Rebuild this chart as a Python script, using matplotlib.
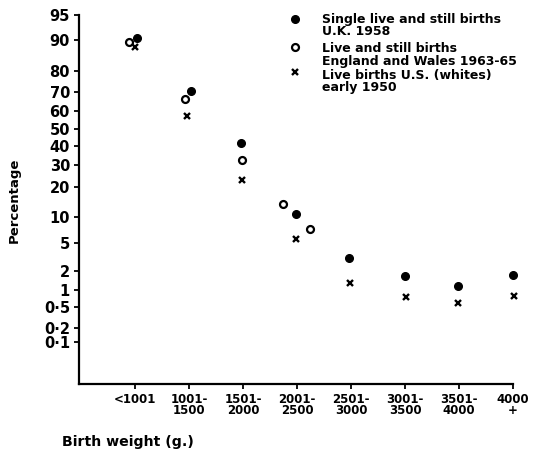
"""
Porcentaje por peso al nacer (escala probit) - tres series de mortalidad.
"""

import math
import matplotlib
matplotlib.use("Agg")
import matplotlib.pyplot as plt
from matplotlib.ticker import NullLocator
import numpy as np

plt.rcParams["font.family"] = ["DejaVu Sans"]

# Datos
categories = ["<1001", "1001-\n1500", "1501-\n2000", "2001-\n2500", "2501-\n3000",
              "3001-\n3500", "3501-\n4000", "4000\n+"]

uk_x = [0.03, 1.03, 1.97, 2.98, 3.97, 5.0, 5.98, 7.0]
uk_pct = [90.6, 70.5, 41.6, 10.8, 3.05, 1.69, 1.14, 1.73]

ew_x = [-0.12, 0.92, 1.98, 2.74, 3.24]
ew_pct = [89.6, 66.6, 32.6, 13.9, 7.4]

us_x = [0.0, 0.96, 1.98, 2.98, 3.98, 5.01, 5.99, 7.01]
us_pct = [88.2, 57.4, 23.0, 5.6, 1.29, 0.75, 0.58, 0.78]

ytick_vals = [0.1, 0.2, 0.5, 1, 2, 5, 10, 20, 30, 40, 50, 60, 70, 80, 90, 95]
ytick_labels = ["0·1", "0·2", "0·5", "1", "2", "5", "10", "20", "30", "40",
                "50", "60", "70", "80", "90", "95"]

legend_labels = ["Single live and still births\nU.K. 1958",
                 "Live and still births\nEngland and Wales 1963-65",
                 "Live births U.S. (whites)\nearly 1950"]

# Escala probit (inversa de la normal) sin scipy
_z = np.linspace(-6, 6, 6001)
_p = 0.5 * (1 + np.vectorize(math.erf)(_z / np.sqrt(2)))


def to_probit(pct):
    return np.interp(np.asarray(pct, dtype=float) / 100.0, _p, _z)


def from_probit(z):
    return np.interp(np.asarray(z, dtype=float), _z, _p) * 100.0


fig = plt.figure(figsize=(5.39, 4.53), dpi=100)
ax = fig.add_axes([79 / 539, 69 / 453, 434 / 539, 369 / 453])
ax.set_yscale("function", functions=(to_probit, from_probit))

mk = dict(ls="none", clip_on=False, zorder=3)
ax.plot(uk_x, uk_pct, marker="o", ms=5.5, mfc="black", mec="black", **mk)
ax.plot(ew_x, ew_pct, marker="o", ms=5, mfc="white", mec="black", mew=1.6, **mk)
ax.plot(us_x, us_pct, marker="x", ms=5, mec="black", mew=1.7, **mk)

ax.set_xlim(-1.04, 7.0)
ax.set_ylim(0.0112, 95)

ax.set_xticks(range(len(categories)))
ax.set_xticklabels(categories, fontsize=8.5, weight="bold", linespacing=0.82)
ax.set_yticks(ytick_vals)
ax.set_yticklabels(ytick_labels, fontsize=10.5, weight="bold")
ax.yaxis.set_minor_locator(NullLocator())
ax.tick_params(axis="both", direction="out", length=3.5, width=1.3, color="black")
ax.tick_params(axis="x", pad=3)
ax.tick_params(axis="y", pad=3)

for s in ["top", "right"]:
    ax.spines[s].set_visible(False)
for s in ["left", "bottom"]:
    ax.spines[s].set_linewidth(1.6)

fig.text(14 / 539, 1 - 200 / 453, "Percentage", rotation=90, ha="center", va="center",
         fontsize=9.5, weight="bold")
fig.text(62 / 539, 1 - 442 / 453, "Birth weight (g.)", ha="left", va="center",
         fontsize=10.2, weight="bold")

# Leyenda manual (marcador alineado con la primera linea)
mx = 0.498
ax.plot([mx], [0.989], marker="o", ms=5.5, mfc="black", mec="black", transform=ax.transAxes, clip_on=False)
ax.plot([mx], [0.913], marker="o", ms=5, mfc="white", mec="black", mew=1.6, transform=ax.transAxes, clip_on=False)
ax.plot([mx], [0.846], marker="x", ms=5, mec="black", mew=1.7, transform=ax.transAxes, clip_on=False)
for lab, yc in zip(legend_labels, [0.972, 0.892, 0.82]):
    ax.text(0.559, yc, lab, transform=ax.transAxes, ha="left", va="center",
            fontsize=9, weight="bold", linespacing=0.95)

fig.savefig("out.png", dpi=100)
